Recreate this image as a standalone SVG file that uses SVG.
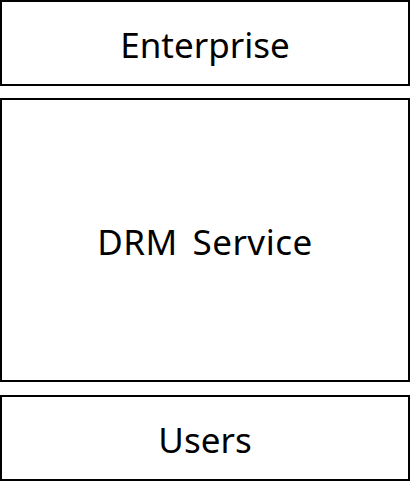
<svg xmlns="http://www.w3.org/2000/svg" width="410" height="484" viewBox="0 0 410 484">
<style>
.box{fill:#fff;stroke:#000;stroke-width:2}
.lbl{font-family:"Noto Sans","Noto Sans CJK KR",sans-serif;font-size:35px;fill:#000;text-anchor:middle;dominant-baseline:central}
</style>
<rect width="410" height="484" fill="#fff"/>
<g id="connectors"></g>
<g id="enterprise"><rect class="box" x="1" y="1" width="408" height="84"/><text class="lbl" x="205" y="44">Enterprise</text></g>
<g id="drm-service"><rect class="box" x="1" y="99" width="408" height="282"/><text class="lbl" x="205" y="241" word-spacing="5" letter-spacing="0.5">DRM Service</text></g>
<g id="users"><rect class="box" x="1" y="396" width="408" height="84"/><text class="lbl" x="205" y="439">Users</text></g>
</svg>
